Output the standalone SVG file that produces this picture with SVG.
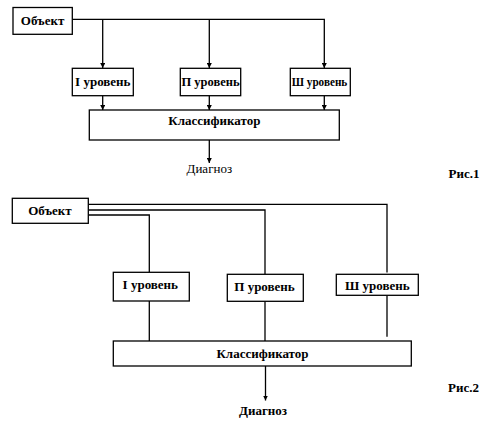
<svg xmlns="http://www.w3.org/2000/svg" width="486" height="422" viewBox="0 0 486 422">
<style>
.box{fill:#fff;stroke:#000;stroke-width:1.3}
.ln{fill:none;stroke:#000;stroke-width:1.3}
.t{font-family:"Liberation Serif","Times New Roman",serif;font-size:13px;font-weight:bold;fill:#000;text-anchor:middle}
.n{font-weight:normal}
</style>
<defs>
<marker id="ah" viewBox="0 0 10 10" refX="10" refY="5" markerWidth="5" markerHeight="5" orient="auto" markerUnits="userSpaceOnUse">
<path d="M0,0 L10,5 L0,10 z" fill="#000"/>
</marker>
</defs>
<rect width="486" height="422" fill="#fff"/>
<g id="connectors">
<!-- Fig 1 -->
<path class="ln" d="M72.3,19.3 H324.3 V68"  marker-end="url(#ah)"/>
<path class="ln" d="M102.7,19.3 V68" marker-end="url(#ah)"/>
<path class="ln" d="M209.3,19.3 V68" marker-end="url(#ah)"/>
<path class="ln" d="M102.7,95.7 V110" marker-end="url(#ah)"/>
<path class="ln" d="M209.3,95.7 V110" marker-end="url(#ah)"/>
<path class="ln" d="M324.3,95.7 V110" marker-end="url(#ah)"/>
<path class="ln" d="M209.3,140 V163" marker-end="url(#ah)"/>
<!-- Fig 2 -->
<path class="ln" d="M88.3,204.3 H387 V272.5"/>
<path class="ln" d="M88.3,210 H265 V274.3"/>
<path class="ln" d="M88.3,215 H149.3 V272.3"/>
<path class="ln" d="M149.3,301 V341"/>
<path class="ln" d="M265,301.3 V341"/>
<path class="ln" d="M387,295.3 V336.7"/>
<path class="ln" d="M265.5,366 V400.5" marker-end="url(#ah)"/>
</g>
<g id="obj1"><rect class="box" x="13" y="7.5" width="59.3" height="26.8"/><text class="t" x="42.6" y="25">Объект</text></g>
<g id="lvl1-1"><rect class="box" x="72.3" y="68.3" width="61" height="27.4"/><text class="t" x="102.8" y="86">I уровень</text></g>
<g id="lvl1-2"><rect class="box" x="180.3" y="68.3" width="60.4" height="27.4"/><text class="t" x="210.5" y="86" textLength="58" lengthAdjust="spacingAndGlyphs">П уровень</text></g>
<g id="lvl1-3"><rect class="box" x="290.3" y="68.3" width="60" height="27.4"/><text class="t" x="319.5" y="85.5" textLength="55.5" lengthAdjust="spacingAndGlyphs">Ш уровень</text></g>
<g id="cls1"><rect class="box" x="89.3" y="110" width="250" height="30"/><text class="t" x="214.3" y="124.5">Классификатор</text></g>
<g id="diag1"><text class="t n" x="209.3" y="172.5">Диагноз</text></g>
<g id="fig1"><text class="t" x="464" y="178">Рис.1</text></g>

<g id="obj2"><rect class="box" x="12.3" y="198.3" width="76" height="25"/><text class="t" x="50" y="214.5">Объект</text></g>
<g id="lvl2-1"><rect class="box" x="113.3" y="272.3" width="76" height="28.7"/><text class="t" x="150.3" y="289">I уровень</text></g>
<g id="lvl2-2"><rect class="box" x="227.3" y="274.3" width="76" height="27"/><text class="t" x="264.5" y="290.5">П уровень</text></g>
<g id="lvl2-3"><rect class="box" x="336.3" y="274.3" width="82" height="21"/><text class="t" x="377.3" y="290">Ш уровень</text></g>
<g id="cls2"><rect class="box" x="113.3" y="341" width="298" height="25"/><text class="t" x="262.5" y="357.5">Классификатор</text></g>
<g id="diag2"><text class="t" x="263" y="415">Диагноз</text></g>
<g id="fig2"><text class="t" x="463.5" y="392">Рис.2</text></g>
</svg>
